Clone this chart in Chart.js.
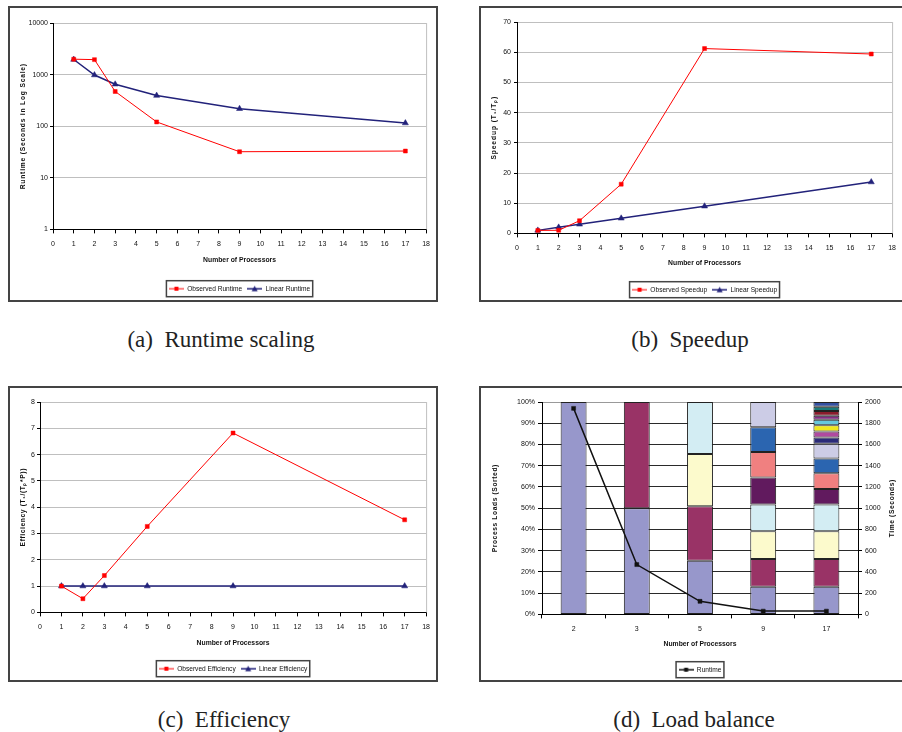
<!DOCTYPE html>
<html>
<head>
<meta charset="utf-8">
<script src="https://cdn.jsdelivr.net/npm/chart.js@4.4.1/dist/chart.umd.min.js"></script>
<style>
  body { margin: 0; background: #fff; width: 902px; height: 732px; position: relative; overflow: hidden; }
  .frame { position: absolute; border: 2px solid #444; box-sizing: border-box; pointer-events: none; }
  .box { position: absolute; }
  .cap { position: absolute; font-family: 'Liberation Serif', 'Times New Roman', serif; font-size: 23px; color: #222;
         white-space: nowrap; transform: translateX(-50%); line-height: 26px; }
</style>
</head>
<body>
<div class="frame" style="left:8px;top:6px;width:430px;height:296px"></div>
<div class="frame" style="left:479px;top:6px;width:430px;height:296px"></div>
<div class="frame" style="left:8px;top:386px;width:430px;height:296px"></div>
<div class="frame" style="left:479px;top:386px;width:430px;height:296px"></div>

<div class="box" style="left:10px;top:8px;width:426px;height:294px"><canvas id="runtime"></canvas></div>
<div class="box" style="left:481px;top:8px;width:421px;height:295px"><canvas id="speedup"></canvas></div>
<div class="box" style="left:10px;top:388px;width:426px;height:294px"><canvas id="efficiency"></canvas></div>
<div class="box" style="left:481px;top:388px;width:421px;height:295px"><canvas id="balance"></canvas></div>

<div class="cap" style="left:221px;top:327px">(a)&nbsp; Runtime scaling</div>
<div class="cap" style="left:690px;top:327px">(b)&nbsp; Speedup</div>
<div class="cap" style="left:224px;top:707px">(c)&nbsp; Efficiency</div>
<div class="cap" style="left:694px;top:707px">(d)&nbsp; Load balance</div>

<script>
// values
const procs = [1, 2, 3, 5, 9, 17];
const observedRuntime = [1990, 1950, 471, 121, 32, 33];
const linearRuntime = [1960, 980, 650, 392, 218, 115];
const runtimeTicks = [1, 10, 100, 1000, 10000];

const observedSpeedup = [1, 1.03, 4.2, 16.3, 61.2, 59.4];
const linearSpeedup = [1, 2, 3, 5, 9, 17];

const observedEfficiency = [1, 0.52, 1.4, 3.27, 6.82, 3.52];
const linearEfficiency = [1, 1, 1, 1, 1, 1];

// load balance: share of work per process (sorted), one list per run
const balanceProcs = ['2', '3', '5', '9', '17'];
const loads2 = [100];
const loads3 = [50, 50];
const loads5 = [25.3, 25.6, 24.6, 24.5];
const loads9 = [13, 13.1, 13, 12.7, 12.7, 12, 11.6, 11.9];
const loads17 = [13, 13.1, 13, 12.7, 7.2, 7.5, 6.9, 7, 2.9, 2.8, 3, 2.5, 1.9, 2.3, 2, 2.2];
const balanceRuntime = [1940, 469, 123, 31, 31];

const rankColors = ['#9797cb', '#993366', '#fcfacc', '#d3edf3', '#611a5e', '#f08080', '#2b65b0', '#cccce6',
                    '#2a2a78', '#b04aa0', '#f0e81e', '#66c8dc', '#842c84', '#8a1c2c', '#1a7a7a', '#3450a0'];

Chart.defaults.font.family = "'Liberation Sans', Arial, sans-serif";
Chart.defaults.font.size = 7;
Chart.defaults.color = '#111';
Chart.defaults.animation = false;
Chart.defaults.plugins.tooltip.enabled = false;

// little line + marker picture for the legend, like excel does
function legendIcon(color, width, shape) {
  const c = document.createElement('canvas');
  c.width = 15; c.height = 8;
  const g = c.getContext('2d');
  g.strokeStyle = color; g.fillStyle = color; g.lineWidth = width;
  g.beginPath(); g.moveTo(0, 4); g.lineTo(15, 4); g.stroke();
  if (shape === 'rect') {
    g.fillRect(5.5, 2, 4, 4);
  } else {
    g.beginPath(); g.moveTo(7.5, 1); g.lineTo(10.5, 6.5); g.lineTo(4.5, 6.5); g.closePath(); g.fill();
  }
  return c;
}

// put the legend under the plot area and draw a box round it
const legendFrame = {
  id: 'legendFrame',
  afterLayout(chart) {
    const lg = chart.legend, a = chart.chartArea;
    const shift = (a.left + a.right) / 2 - (lg.left + lg.right) / 2;
    lg.left += shift; lg.right += shift;
  },
  afterDraw(chart) {
    const hb = chart.legend.legendHitBoxes;
    if (!hb.length) return;
    const last = hb[hb.length - 1];
    const x0 = hb[0].left - 2.5, x1 = last.left + last.width + 2.5;
    const cy = hb[0].top + hb[0].height / 2;
    const ctx = chart.ctx;
    ctx.save();
    ctx.strokeStyle = '#444'; ctx.lineWidth = 1.5;
    ctx.strokeRect(x0, cy - 8, x1 - x0, 16);
    ctx.restore();
  }
};

// grey right edge of the plot area
const plotEdge = {
  id: 'plotEdge',
  beforeDatasetsDraw(chart) {
    const a = chart.chartArea, ctx = chart.ctx;
    ctx.save();
    ctx.strokeStyle = '#bfbfbf'; ctx.lineWidth = 1;
    ctx.beginPath(); ctx.moveTo(a.right + 0.5, a.top); ctx.lineTo(a.right + 0.5, a.bottom); ctx.stroke();
    ctx.restore();
  }
};

// vertical axis titles: spaced letters, and the right one reads bottom to top too
const yTitles = {
  id: 'yTitles',
  afterUpdate(chart, args, opts) {
    Object.values(chart.scales).forEach(s => {
      if (s.isHorizontal() || s._ownTitle) return;
      s._ownTitle = true;
      s.drawTitle = function () {
        const t = this.options.title;
        if (!t.display) return;
        const ctx = this.ctx;
        const f = Chart.helpers.toFont(t.font);
        const pad = Chart.helpers.toPadding(t.padding);
        const off = f.lineHeight / 2 + pad.top;
        const x = this.position === 'right' ? this.right - off : this.left + off;
        ctx.save();
        ctx.translate(x, (this.top + this.bottom) / 2);
        ctx.rotate(-Math.PI / 2);
        ctx.font = f.string;
        ctx.fillStyle = t.color;
        ctx.letterSpacing = (opts && opts.spacing) || '0px';
        ctx.textAlign = 'center';
        ctx.textBaseline = 'middle';
        ctx.fillText(t.text, 0, 0);
        ctx.restore();
      };
    });
  }
};

const legendLabels = {
  usePointStyle: true, pointStyleWidth: 15, padding: 5, color: '#111', font: { size: 6.6 },
  generateLabels: chart => Chart.defaults.plugins.legend.labels.generateLabels(chart)
    .filter(it => chart.data.datasets[it.datasetIndex].legendIcon)
    .map(it => ({ ...it, pointStyle: chart.data.datasets[it.datasetIndex].legendIcon }))
};

const points = values => procs.map((p, i) => ({ x: p, y: values[i] }));

function lineSet(label, values, color, width, shape) {
  return {
    label: label,
    data: points(values),
    borderColor: color,
    backgroundColor: color,
    borderWidth: width,
    pointStyle: shape,
    pointRadius: shape === 'rect' ? 2.8 : 3.5,
    pointBorderWidth: 0.5,
    pointBackgroundColor: color,
    legendIcon: legendIcon(color, width, shape),
  };
}

const RED = '#ff0000', NAVY = '#22227a';

function scalingChart(id, c) {
  return new Chart(document.getElementById(id), {
    type: 'line',
    data: {
      datasets: [
        lineSet(c.names[0], c.observed, RED, 1, 'rect'),
        lineSet(c.names[1], c.linear, NAVY, 1.5, 'triangle'),
      ]
    },
    options: {
      responsive: true,
      maintainAspectRatio: false,
      layout: { padding: { top: c.top, right: c.right, left: 0, bottom: 0 } },
      scales: {
        x: {
          type: 'linear', min: 0, max: 18,
          ticks: { stepSize: 1, autoSkip: false, maxRotation: 0, padding: 6, color: '#111' },
          grid: { drawOnChartArea: false, tickLength: 4, tickColor: '#000' },
          border: { color: '#000' },
          title: { display: true, text: 'Number of Processors', color: '#111',
                   font: { weight: 'bold', size: 6.8 }, padding: { top: 0, bottom: c.xTitlePad } },
          afterFit: s => { s.height = c.xHeight; },
        },
        y: Object.assign({
          grid: { color: '#bfbfbf', tickLength: 3, tickColor: '#000' },
          border: { color: '#000' },
          title: { display: true, text: c.yTitle, color: '#111',
                   font: { weight: 'bold', size: 6.7 }, padding: { top: c.yTitlePad, bottom: 0 } },
          afterFit: s => { s.width = c.yWidth; },
        }, c.y),
      },
      plugins: {
        legend: { position: 'bottom', labels: legendLabels },
        yTitles: { spacing: c.spacing },
      }
    },
    plugins: [plotEdge, legendFrame, yTitles]
  });
}

scalingChart('runtime', {
  names: ['Observed Runtime', 'Linear Runtime'],
  observed: observedRuntime, linear: linearRuntime,
  top: 15, right: 8, yWidth: 43, yTitlePad: 9, xHeight: 51, xTitlePad: 15.8,
  yTitle: 'Runtime (Seconds in Log Scale)', spacing: '0.8px',
  y: {
    type: 'logarithmic', min: 1, max: 10000,
    afterBuildTicks: s => { s.ticks = runtimeTicks.map(v => ({ value: v })); },
    ticks: { padding: 2, color: '#111', callback: v => String(v) },
  }
});

scalingChart('speedup', {
  names: ['Observed Speedup', 'Linear Speedup'],
  observed: observedSpeedup, linear: linearSpeedup,
  top: 14, right: 4, yWidth: 36, yTitlePad: 8.8, xHeight: 48, xTitlePad: 13.8,
  yTitle: 'Speedup (T\u2081/T\u209A)', spacing: '0.9px',
  y: { min: 0, max: 70, ticks: { stepSize: 10, padding: 3, color: '#111' } }
});

scalingChart('efficiency', {
  names: ['Observed Efficiency', 'Linear Efficiency'],
  observed: observedEfficiency, linear: linearEfficiency,
  top: 14, right: 8, yWidth: 30, yTitlePad: 9, xHeight: 48, xTitlePad: 12.8,
  yTitle: 'Efficiency (T\u2081/(T\u209A*P))', spacing: '0.6px',
  y: { min: 0, max: 8, ticks: { stepSize: 1, padding: 2, color: '#111' } }
});

// load balance: one stacked dataset per process rank
const loadsByRun = [loads2, loads3, loads5, loads9, loads17];
const rankSets = rankColors.map((color, r) => ({
  type: 'bar',
  label: 'Process ' + (r + 1),
  data: loadsByRun.map(l => (r < l.length ? l[r] : null)),
  backgroundColor: color,
  borderColor: '#222',
  borderWidth: 1,
  borderSkipped: false,
  barPercentage: 0.41,
  categoryPercentage: 1,
  yAxisID: 'y',
  order: 1,
}));

new Chart(document.getElementById('balance'), {
  data: {
    labels: balanceProcs,
    datasets: [{
      type: 'line',
      label: 'Runtime',
      data: balanceRuntime,
      borderColor: '#111',
      backgroundColor: '#111',
      borderWidth: 1.5,
      pointStyle: 'rect',
      pointRadius: 2.8,
      pointBorderWidth: 0.5,
      yAxisID: 'y2',
      order: 0,
      legendIcon: legendIcon('#111', 1.5, 'rect'),
    }].concat(rankSets)
  },
  options: {
    responsive: true,
    maintainAspectRatio: false,
    layout: { padding: { top: 14, right: 0, left: 0, bottom: 0 } },
    scales: {
      x: {
        stacked: true,
        ticks: { padding: 6, color: '#111' },
        grid: { offset: true, drawOnChartArea: false, tickLength: 4, tickColor: '#000' },
        border: { color: '#000' },
        title: { display: true, text: 'Number of Processors', color: '#111',
                 font: { weight: 'bold', size: 6.8 }, padding: { top: 0, bottom: 12.8 } },
        afterFit: s => { s.height = 47; },
      },
      y: {
        stacked: true, min: 0, max: 100,
        ticks: { stepSize: 10, padding: 3, color: '#111', callback: v => v + '%' },
        grid: { color: c => (c.tick && c.tick.value === 100 ? '#999' : '#2a2a2a'), tickLength: 4, tickColor: '#000' },
        border: { color: '#000' },
        title: { display: true, text: 'Process Loads (Sorted)', color: '#111',
                 font: { weight: 'bold', size: 6.7 }, padding: { top: 9.8, bottom: 0 } },
        afterFit: s => { s.width = 61; },
      },
      y2: {
        position: 'right', min: 0, max: 2000,
        ticks: { stepSize: 200, padding: 3, color: '#111', callback: v => String(v) },
        grid: { drawOnChartArea: false, tickLength: 4, tickColor: '#000' },
        border: { color: '#000' },
        title: { display: true, text: 'Time (Seconds)', color: '#111',
                 font: { weight: 'bold', size: 6.7 }, padding: { top: 5.8, bottom: 0 } },
        afterFit: s => { s.width = 44; },
      }
    },
    plugins: {
      legend: { position: 'bottom', labels: legendLabels },
      yTitles: { spacing: '0.6px' },
    }
  },
  plugins: [legendFrame, yTitles]
});
</script>
</body>
</html>
